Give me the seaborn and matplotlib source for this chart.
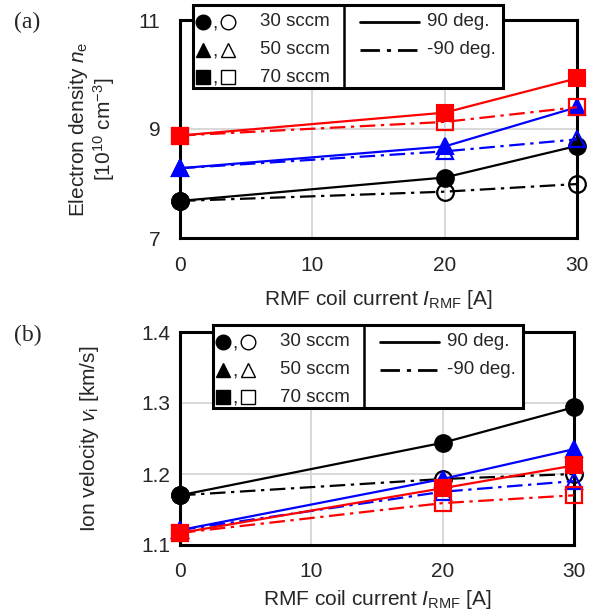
import numpy as np
import pandas as pd
import matplotlib
matplotlib.use("Agg")
import matplotlib.pyplot as plt
from matplotlib.lines import Line2D
from matplotlib.patches import Rectangle
from matplotlib.ticker import MultipleLocator, FixedLocator, FormatStrFormatter
import seaborn as sns

# ---- data -------------------------------------------------------------
coil_current = [0, 20, 30]                 # I_RMF [A]
flow_labels = ["30 sccm", "50 sccm", "70 sccm"]
flow_colors = ["black", "blue", "red"]
flow_markers = ["o", "^", "s"]

# electron density n_e [1e10 cm^-3]
ne_pos90 = {
    "30 sccm": [7.68, 8.11, 8.69],
    "50 sccm": [8.28, 8.68, 9.40],
    "70 sccm": [8.88, 9.30, 9.93],
}
ne_neg90 = {
    "30 sccm": [7.68, 7.85, 7.99],
    "50 sccm": [8.28, 8.59, 8.81],
    "70 sccm": [8.88, 9.13, 9.40],
}

# ion velocity v_i [km/s]
vi_pos90 = {
    "30 sccm": [1.170, 1.244, 1.294],
    "50 sccm": [1.121, 1.193, 1.235],
    "70 sccm": [1.117, 1.180, 1.212],
}
vi_neg90 = {
    "30 sccm": [1.170, 1.193, 1.200],
    "50 sccm": [1.121, 1.175, 1.190],
    "70 sccm": [1.117, 1.159, 1.170],
}

ne_major = [7, 9, 11]
ne_minor = [8, 10]

# ---- style ------------------------------------------------------------
sns.set_style("white")
plt.rcParams["font.family"] = ["Liberation Sans", "DejaVu Sans"]
plt.rcParams["mathtext.fontset"] = "custom"
plt.rcParams["mathtext.rm"] = "Liberation Sans"
plt.rcParams["mathtext.it"] = "Liberation Sans:italic"
plt.rcParams["font.size"] = 15

FS = 15
W, H = 595, 616
fig = plt.figure(figsize=(W / 100, H / 100), dpi=100)


def px(x, y):
    """pixel position (from top-left) -> figure fraction"""
    return x / W, 1 - y / H


def make_axes(left, top, right, bottom):
    return fig.add_axes([left / W, 1 - bottom / H, (right - left) / W, (bottom - top) / H])


ax_a = make_axes(180, 20, 577, 238)
ax_b = make_axes(180, 332, 574, 545)

DASHDOT = (0, (7, 2.5, 1.5, 2.5))


def draw_panel(ax, pos, neg, xpad, xlabelpad):
    frames = []
    for lab in flow_labels:
        frames.append(pd.DataFrame({"I": coil_current, "v": pos[lab], "flow": lab, "angle": "90"}))
        frames.append(pd.DataFrame({"I": coil_current, "v": neg[lab], "flow": lab, "angle": "-90"}))
    df = pd.concat(frames, ignore_index=True)
    for lab, col, mk in zip(flow_labels, flow_colors, flow_markers):
        sub = df[(df.flow == lab) & (df.angle == "90")]
        sns.lineplot(data=sub, x="I", y="v", ax=ax, color=col, marker=mk,
                     markersize=12, markeredgewidth=1.5, markeredgecolor=col,
                     linewidth=1.6, clip_on=False, zorder=3, legend=False)
        sub = df[(df.flow == lab) & (df.angle == "-90")]
        sns.lineplot(data=sub, x="I", y="v", ax=ax, color=col, marker=mk,
                     markersize=12, markeredgewidth=1.6, markeredgecolor=col,
                     markerfacecolor="none", linestyle=DASHDOT,
                     linewidth=1.6, clip_on=False, zorder=3, legend=False)
    ax.set_xlim(0, 30)
    ax.xaxis.set_major_locator(MultipleLocator(10))
    ax.xaxis.set_minor_locator(MultipleLocator(5))
    ax.grid(True, which="major", color="#d6d6d6", linewidth=1.3)
    ax.set_axisbelow(True)
    for s in ax.spines.values():
        s.set_linewidth(2.2)
        s.set_color("black")
        s.set_zorder(2.5)
    ax.tick_params(which="both", direction="in", width=1.3, color="black", length=4)
    ax.tick_params(axis="x", which="both", top=False, pad=xpad, labelsize=FS)
    ax.tick_params(axis="y", which="both", right=False, labelsize=FS)
    ax.set_xlabel(r"RMF coil current $I_\mathrm{RMF}$ [A]", fontsize=FS, labelpad=xlabelpad)


draw_panel(ax_a, ne_pos90, ne_neg90, 13, 9)
ax_a.set_ylim(7, 11)
ax_a.yaxis.set_major_locator(FixedLocator(ne_major))
ax_a.yaxis.set_minor_locator(FixedLocator(ne_minor))
ax_a.tick_params(axis="y", pad=14)
ax_a.set_ylabel("Electron density $n_\\mathrm{e}$\n[10$^{10}$ cm$^{-3}$]",
                fontsize=FS, linespacing=1.05, labelpad=16)

draw_panel(ax_b, vi_pos90, vi_neg90, 12, 5)
ax_b.set_ylim(1.1, 1.4)
ax_b.yaxis.set_major_locator(MultipleLocator(0.1))
ax_b.yaxis.set_minor_locator(MultipleLocator(0.05))
ax_b.yaxis.set_major_formatter(FormatStrFormatter("%.1f"))
ax_b.tick_params(axis="y", pad=7)
ax_b.set_ylabel(r"Ion velocity $v_\mathrm{i}$ [km/s]", fontsize=FS, labelpad=29)

# panel tags
fig.text(*px(14, 22), "(a)", family="Liberation Serif", fontsize=17, va="center", ha="left")
fig.text(*px(14, 335), "(b)", family="Liberation Serif", fontsize=17, va="center", ha="left")


def draw_key(x0, y0):
    """boxed key with flow-rate markers on the left and line styles on the right"""
    tf = fig.transFigure
    bx, by = px(x0, y0 + 83)
    fig.add_artist(Rectangle((bx, by), 310 / W, 83 / H, transform=tf,
                             facecolor="white", edgecolor="black", linewidth=2.2, zorder=10))
    fig.add_artist(Line2D([px(x0 + 151, 0)[0]] * 2, [px(0, y0)[1], px(0, y0 + 83)[1]],
                          transform=tf, color="black", linewidth=1.8, zorder=11))
    rows = [17, 45, 72]
    for lab, mk, dy in zip(flow_labels, flow_markers, rows):
        yy = px(0, y0 + dy)[1]
        fig.add_artist(Line2D([px(x0 + 10, 0)[0]], [yy], transform=tf, marker=mk, markersize=10.5,
                              color="black", linestyle="none", zorder=11))
        fig.text(px(x0 + 22, 0)[0], yy - 0.004, ",", fontsize=14, ha="center", va="center", zorder=11)
        fig.add_artist(Line2D([px(x0 + 35, 0)[0]], [yy], transform=tf, marker=mk, markersize=10.5,
                              markerfacecolor="none", markeredgecolor="black", markeredgewidth=1.0,
                              linestyle="none", zorder=11))
        fig.text(px(x0 + 67, 0)[0], yy, lab, fontsize=13.5, ha="left", va="center", zorder=11)
    for ls, txt, dy in zip(["-", DASHDOT], ["90 deg.", "-90 deg."], rows[:2]):
        yy = px(0, y0 + dy)[1]
        fig.add_artist(Line2D([px(x0 + 167, 0)[0], px(x0 + 226, 0)[0]], [yy, yy], transform=tf,
                              color="black", linestyle=ls, linewidth=2.0, zorder=11))
        fig.text(px(x0 + 234, 0)[0], yy, txt, fontsize=13.5, ha="left", va="center", zorder=11)


draw_key(193, 5)
draw_key(213, 325)

fig.savefig("out.png", dpi=100)
